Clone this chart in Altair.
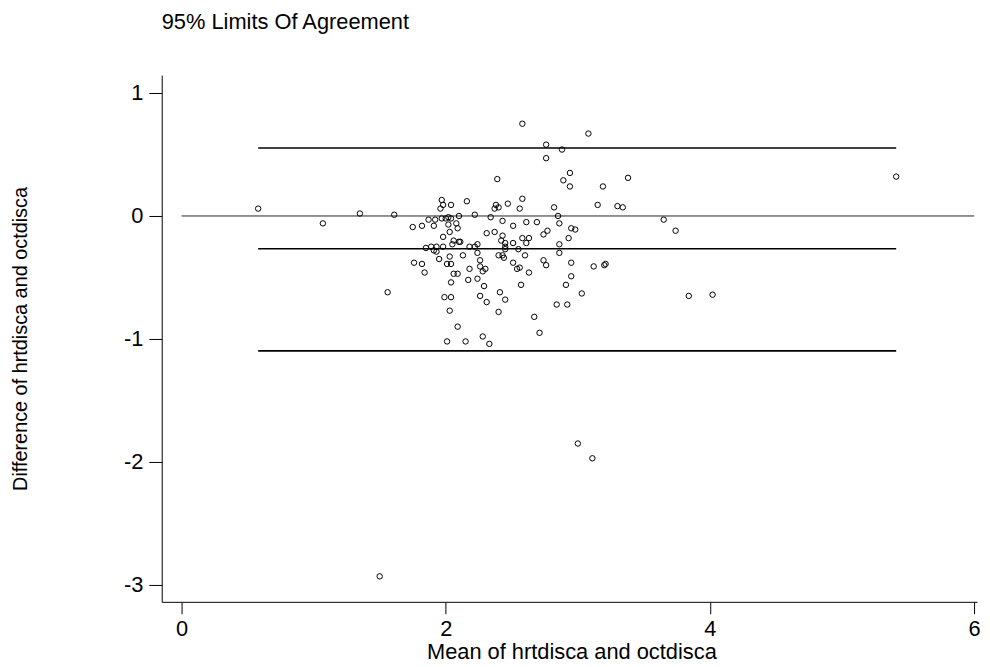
import altair as alt
import pandas as pd

# Mean of the two measures (x) and their difference (y)
mean_vals = [
    0.58, 1.07, 1.35, 1.61, 1.56, 1.50, 3.00, 3.11, 5.41, 3.84, 4.02, 3.65, 3.74, 3.38, 3.19, 3.15, 3.30, 3.34, 3.12, 3.20, 3.21, 3.08, 3.03,
    2.88, 2.94, 2.89, 2.94, 2.82, 2.85, 2.86, 2.95, 2.98, 2.93, 2.86, 2.86, 2.95, 2.95, 2.91, 2.84, 2.92, 2.77, 2.74,
    2.76, 2.76, 2.74, 2.76, 2.67, 2.71, 2.69,
    2.58, 2.58, 2.56, 2.61, 2.58, 2.63, 2.61, 2.55, 2.60, 2.54, 2.56, 2.63, 2.57,
    2.39, 2.47, 2.38, 2.37, 2.40, 2.43, 2.51, 2.51, 2.43, 2.42, 2.45, 2.45, 2.45, 2.40, 2.43, 2.44, 2.51, 2.41, 2.45, 2.40,
    2.34, 2.22, 2.37, 2.31, 2.24, 2.22, 2.24, 2.26, 2.26, 2.28, 2.30, 2.24, 2.29, 2.26, 2.31, 2.28, 2.33,
    2.16, 2.10, 2.08, 2.09, 2.18, 2.13, 2.18, 2.17, 2.06, 2.09, 2.10, 2.09, 2.15,
    1.97, 1.98, 1.96, 2.04, 2.04, 2.02, 2.00, 1.97, 1.92, 2.02, 2.03, 1.98, 2.06, 2.05, 1.98, 1.93, 1.91, 1.93, 2.03, 1.95, 2.01, 2.04, 2.04, 1.99, 2.04, 2.03, 2.01,
    1.87, 1.91, 1.82, 1.75, 1.85, 1.89, 1.76, 1.82, 1.84, 2.11,
]
diff_vals = [
    0.06, -0.06, 0.02, 0.01, -0.62, -2.93, -1.85, -1.97, 0.32, -0.65, -0.64, -0.03, -0.12, 0.31, 0.24, 0.09, 0.08, 0.07, -0.41, -0.40, -0.39, 0.67, -0.63,
    0.54, 0.35, 0.29, 0.24, 0.07, 0.00, -0.06, -0.10, -0.11, -0.18, -0.23, -0.30, -0.38, -0.49, -0.56, -0.72, -0.72, -0.12, -0.15,
    0.58, 0.47, -0.36, -0.40, -0.82, -0.95, -0.05,
    0.75, 0.14, 0.06, -0.05, -0.18, -0.18, -0.22, -0.27, -0.32, -0.43, -0.42, -0.46, -0.56,
    0.30, 0.10, 0.09, 0.06, 0.07, -0.04, -0.08, -0.22, -0.16, -0.20, -0.22, -0.25, -0.27, -0.32, -0.32, -0.34, -0.38, -0.62, -0.68, -0.78,
    -0.01, 0.01, -0.13, -0.14, -0.23, -0.25, -0.30, -0.36, -0.41, -0.45, -0.43, -0.51, -0.57, -0.65, -0.70, -0.98, -1.04,
    0.12, 0.00, -0.06, -0.10, -0.25, -0.32, -0.43, -0.52, -0.47, -0.47, -0.21, -0.90, -1.02,
    0.13, 0.09, 0.06, 0.09, -0.02, -0.01, -0.02, -0.02, -0.03, -0.07, -0.13, -0.17, -0.20, -0.23, -0.25, -0.25, -0.28, -0.29, -0.33, -0.35, -0.39, -0.39, -0.54, -0.66, -0.66, -0.77, -1.02,
    -0.03, -0.08, -0.08, -0.09, -0.26, -0.25, -0.38, -0.39, -0.46, -0.21,
]

# Limits of agreement (upper, mean difference, lower) and their x span
loa_levels = [0.552, -0.266, -1.097]
loa_start = [0.58, 0.58, 0.58]
loa_end = [5.41, 5.41, 5.41]
# Zero reference line
zero_level = [0.0]
zero_start = [0.0]
zero_end = [6.0]

x_ticks = [0, 2, 4, 6]
y_ticks = [-3, -2, -1, 0, 1]

FONT = "Liberation Sans"
FS = 22

points = pd.DataFrame({"mean": mean_vals, "diff": diff_vals})
loa = pd.DataFrame({"mean": loa_start, "mean2": loa_end, "diff": loa_levels})
zero = pd.DataFrame({"mean": zero_start, "mean2": zero_end, "diff": zero_level})

xscale = alt.Scale(domain=[-0.150, 6.022], nice=False, zero=False)
yscale = alt.Scale(domain=[-3.137, 1.145], nice=False, zero=False)

hyphen = "replace(datum.label, '\u2212', '-')"

xaxis = alt.Axis(values=x_ticks, title="Mean of hrtdisca and octdisca", grid=False,
                 tickSize=12, labelPadding=5, labelFlush=False, format="d",
                 labelExpr=hyphen,
                 titleX=413, titleY=57, titleBaseline="alphabetic", titleAlign="center")
yaxis = alt.Axis(values=y_ticks, title="Difference of hrtdisca and octdisca", grid=False,
                 tickSize=13, labelPadding=6, labelFlush=False, format="d",
                 labelExpr=hyphen, titleFontSize=20,
                 titleX=-136, titleY=265.5, titleAngle=270, titleAlign="center",
                 titleBaseline="alphabetic")

X = alt.X("mean:Q", scale=xscale, axis=xaxis)
Y = alt.Y("diff:Q", scale=yscale, axis=yaxis)

zero_rule = alt.Chart(zero).mark_rule(color="#222222", strokeWidth=1).encode(
    x=X, x2="mean2:Q", y=Y)
loa_rules = alt.Chart(loa).mark_rule(color="black", strokeWidth=1.6).encode(
    x=X, x2="mean2:Q", y=Y)
dots = alt.Chart(points).mark_point(shape="circle", filled=False, size=30,
                                    color="black", strokeWidth=1, opacity=1).encode(
    x=X, y=Y)

chart = alt.layer(zero_rule, loa_rules, dots).properties(
    width=822, height=531,
    autosize=alt.AutoSizeParams(type="none"),
    padding={"left": 155, "top": 65, "right": 5, "bottom": 60},
    title=alt.TitleParams("95% Limits Of Agreement", anchor="start", frame="group",
                          dx=0, offset=42, fontSize=FS, font=FONT,
                          fontWeight="normal", color="black"),
).configure_view(stroke=None).configure_axis(
    domainColor="black", tickColor="black", labelColor="black", titleColor="black",
    labelFont=FONT, titleFont=FONT, labelFontSize=FS, titleFontSize=FS,
    titleFontWeight="normal", domainWidth=1, tickWidth=1
)

chart.save("out.html", embed_options={"renderer": "svg", "actions": False})
